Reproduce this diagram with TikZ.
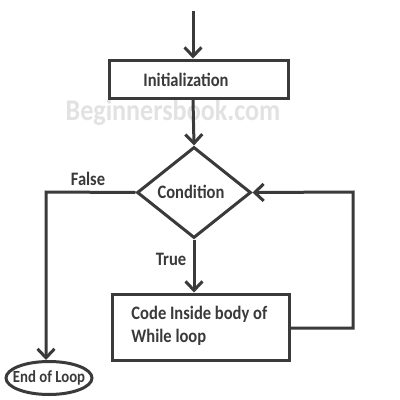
\documentclass[tikz,border=0pt]{standalone}
\usepackage{fontspec}
\setmainfont[FakeStretch=0.87]{Carlito}
\usetikzlibrary{arrows.meta,shapes.geometric}
\definecolor{ink}{HTML}{3A3A3A}
\definecolor{wm}{HTML}{E2E2E2}
\begin{document}
\begin{tikzpicture}[x=1pt,y=-1pt,
  line width=3pt, draw=ink,
  flow/.style={-{Straight Barb[length=9pt,width=17pt,line width=3pt]}},
  lbl/.style={text=ink,font=\bfseries\fontsize{19}{23}\selectfont,inner sep=0pt},
  boxnode/.style={draw=ink,line width=3pt,rectangle,inner sep=0pt},
]
\useasboundingbox (0,0) rectangle (400,400);
\fill[white] (0,0) rectangle (400,400);
\node[text=wm,font=\bfseries\fontsize{30}{34}\selectfont,inner sep=0pt] (wmk) at (173,113) {Beginnersbook.com};
\coordinate (start) at (193,11);
\node[boxnode,minimum width=179pt,minimum height=38pt] (init) at (199,79) {};
\node[lbl] (initt) at (186,80) {Initialization};
\node[draw=ink,line width=3pt,diamond,minimum width=114pt,minimum height=91pt,inner sep=0pt,aspect=1.25] (cond) at (194,192.5) {};
\node[lbl] (condt) at (191,192) {Condition};
\node[boxnode,minimum width=177pt,minimum height=66pt] (body) at (201,327) {};
\node[lbl,align=left,anchor=west] (bodyt) at (130,326) {Code Inside body of\\While loop};
\node[draw=ink,line width=3pt,ellipse,minimum width=86pt,minimum height=33pt,inner sep=0pt] (end) at (49,378) {};
\node[lbl,font=\bfseries\fontsize{17}{20}\selectfont] (endt) at (49,378) {End of Loop};
\node[lbl] (false) at (88,179) {False};
\node[lbl] (true) at (171,259) {True};
\coordinate (lc) at (46,192);
\coordinate (rc1) at (353,328);
\coordinate (rc2) at (353,192);
\draw[flow] (start) -- (init.north -| start);
\draw[flow] (init.south -| start) -- (cond.north);
\draw[flow] (cond.south) -- (body.north -| cond.south);
\draw[flow] (cond.west) -- (lc) -- (end.north -| lc);
\draw[flow] (body.east |- rc1) -- (rc1) -- (rc2) -- (cond.east);
\end{tikzpicture}
\end{document}
